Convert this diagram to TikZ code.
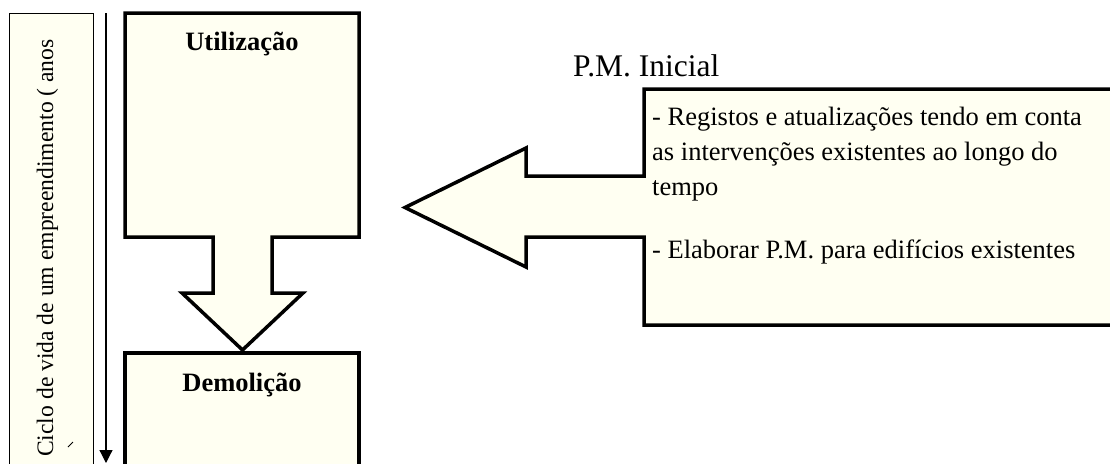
\documentclass[tikz,border=0pt]{standalone}
\usepackage{fontspec}
\setmainfont{Liberation Serif}
\usetikzlibrary{arrows.meta}
\definecolor{cream}{RGB}{255,255,242}
\begin{document}
\begin{tikzpicture}[x=1pt,y=-1pt,
  callout/.style={draw=black, line width=3.5pt, fill=cream, line join=miter},
  body/.style={font=\fontsize{26.5}{35}\selectfont, anchor=base west, inner sep=0pt},
  title/.style={font=\fontsize{26.5}{30}\bfseries\selectfont, anchor=base, inner sep=0pt}]
\useasboundingbox (0,0) rectangle (1110,463);
\begin{scope}
\clip (0,0) rectangle (1110,463);
% timeline panel
\draw[fill=cream, line width=1pt] (9,13) rectangle (93,480);
\node[rotate=90, anchor=base west, inner sep=0pt, font=\fontsize{23.6}{28}\selectfont] (ciclo) at (53,457) {Ciclo de vida de um empreendimento ( anos};
\draw[line width=0.8pt] (68,447) -- (73,442);
% time axis
\coordinate (t0) at (106,13);
\coordinate (t1) at (106,463);
\draw[line width=1.2pt, -{Triangle[length=13pt,width=13pt]}] (t0) -- (t1);
% use phase with down arrow
\draw[callout] (125,13) -- (359,13) -- (359,237) -- (272,237) -- (272,293) -- (303,293)
  -- (242.5,350) -- (182,293) -- (213,293) -- (213,237) -- (125,237) -- cycle;
\node[title] (util) at (242,50) {Utilização};
% demolition phase
\draw[callout] (125,353) rectangle (359,490);
\node[title] (demo) at (242,391) {Demolição};
% initial maintenance plan with left arrow
\node[font=\fontsize{31.5}{36}\selectfont, anchor=base west, inner sep=0pt] (pm) at (573,76) {P.M. Inicial};
\draw[callout] (1130,89) -- (644,89) -- (644,176) -- (526,176) -- (526,148) -- (405,207.5)
  -- (526,267) -- (526,237) -- (644,237) -- (644,325) -- (1130,325) -- cycle;
\node[body] (r1) at (652,125) {- Registos e atualizações tendo em conta};
\node[body] (r2) at (652,160) {as intervenções existentes ao longo do};
\node[body] (r3) at (652,195) {tempo};
\node[body] (r4) at (652,258) {- Elaborar P.M. para edifícios existentes};
\end{scope}
\end{tikzpicture}
\end{document}
